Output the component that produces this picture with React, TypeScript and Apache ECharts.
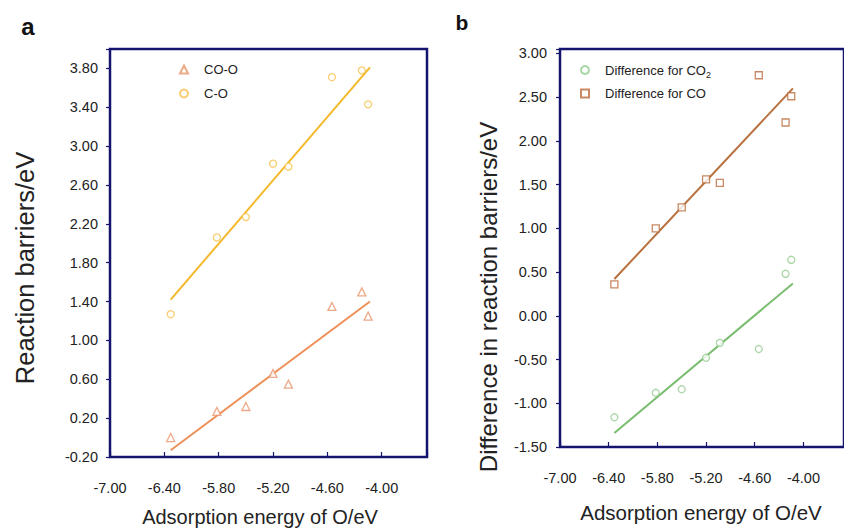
import React, { useEffect, useRef } from "react";
import * as echarts from "echarts";

// ---------- data ----------
const adsorptionO = [-6.33, -5.82, -5.5, -5.2, -5.03, -4.55, -4.22, -4.15];
const barrierCOO = [0.0, 0.27, 0.32, 0.66, 0.55, 1.35, 1.5, 1.25];
const barrierCO = [1.27, 2.06, 2.27, 2.82, 2.79, 3.71, 3.78, 3.43];
const diffCO2 = [-1.16, -0.88, -0.84, -0.48, -0.31, -0.38, 0.48, 0.64];
const diffCOv = [0.36, 1.0, 1.24, 1.56, 1.52, 2.75, 2.21, 2.51];

const fitX = [-6.33, -4.13];
const fitCOO = [-0.13, 1.4];
const fitCO = [1.42, 3.81];
const fitDiffCO2 = [-1.34, 0.37];
const fitDiffCO = [0.42, 2.6];

const xTicks = [-7.0, -6.4, -5.8, -5.2, -4.6, -4.0];
const yTicksA = [-0.2, 0.2, 0.6, 1.0, 1.4, 1.8, 2.2, 2.6, 3.0, 3.4, 3.8];
const yTicksB = [-1.5, -1.0, -0.5, 0.0, 0.5, 1.0, 1.5, 2.0, 2.5, 3.0];

const X_MAX = -3.5;
const Y_MAX_A = 4.0;
const Y_MAX_B = 3.05;

const FONT = "'Liberation Sans', Arial, 'Noto Sans', sans-serif";
const TXT = "#222222";
const FRAME = "#14146e";

const pairs = (xs: number[], ys: number[]) => xs.map((x, i) => [x, ys[i]]);

function xAxisCfg(gridIndex: number) {
  return {
    type: "value",
    gridIndex,
    min: xTicks[0],
    max: X_MAX,
    interval: xTicks[1] - xTicks[0],
    splitLine: { show: false },
    axisLine: { show: true, onZero: false, lineStyle: { color: FRAME, width: 2 } },
    axisTick: { show: true, inside: true, length: 5, lineStyle: { color: FRAME, width: 1.2 } },
    axisLabel: {
      customValues: xTicks,
      formatter: (v: number) => v.toFixed(2),
      margin: 23,
      fontSize: 14.5,
      color: TXT,
      fontFamily: FONT,
    },
  };
}

function yAxisCfg(gridIndex: number, max: number, ticks: number[], margin: number) {
  return {
    type: "value",
    gridIndex,
    min: ticks[0],
    max,
    interval: ticks[1] - ticks[0],
    splitLine: { show: false },
    axisLine: { show: true, onZero: false, lineStyle: { color: FRAME, width: 2 } },
    axisTick: { show: true, inside: false, length: 4, lineStyle: { color: FRAME, width: 1.2 } },
    axisLabel: {
      customValues: ticks,
      formatter: (v: number) => v.toFixed(2),
      margin,
      fontSize: 14.5,
      color: TXT,
      fontFamily: FONT,
    },
  };
}

function scatter(name: string, xi: number, ys: number[], symbol: string, size: number, color: string) {
  return {
    type: "scatter",
    name,
    xAxisIndex: xi,
    yAxisIndex: xi,
    symbol,
    symbolSize: size,
    itemStyle: { color: "#fff", borderColor: color, borderWidth: 1.3 },
    data: pairs(adsorptionO, ys),
    z: 3,
  };
}

function fit(name: string, xi: number, ys: number[], color: string) {
  return {
    type: "line",
    name,
    xAxisIndex: xi,
    yAxisIndex: xi,
    showSymbol: false,
    symbol: "none",
    lineStyle: { color, width: 2 },
    data: pairs(fitX, ys),
    z: 2,
  };
}

function legendCfg(name: string, left: number, top: number, extra: any = {}) {
  return {
    data: [name],
    left,
    top,
    orient: "vertical",
    itemWidth: 8,
    itemHeight: 8,
    padding: 0,
    selectedMode: false,
    textStyle: { fontSize: 13, color: TXT, fontFamily: FONT, padding: [0, 0, 0, 11], ...(extra.textStyle || {}) },
    ...(extra.formatter ? { formatter: extra.formatter } : {}),
  };
}

export default function App() {
  const ref = useRef<HTMLDivElement>(null);

  useEffect(() => {
    if (!ref.current) return;
    const chart = echarts.init(ref.current, undefined, { renderer: "svg" });
    const option: any = {
      animation: false,
      grid: [
        { left: 110, top: 49, right: 417, bottom: 72, show: true, borderColor: FRAME, borderWidth: 2.5, backgroundColor: "rgba(0,0,0,0)" },
        { left: 560, top: 49, right: -10, bottom: 82, show: true, borderColor: FRAME, borderWidth: 2.5, backgroundColor: "rgba(0,0,0,0)" },
      ],
      xAxis: [xAxisCfg(0), xAxisCfg(1)],
      yAxis: [yAxisCfg(0, Y_MAX_A, yTicksA, 12), yAxisCfg(1, Y_MAX_B, yTicksB, 13)],
      legend: [
        legendCfg("CO-O", 179, 63),
        legendCfg("C-O", 179, 87),
        legendCfg("Difference for CO2", 580, 61, {
          formatter: () => "Difference for CO{sub|2}",
          textStyle: {
            lineHeight: 18,
            rich: { sub: { fontSize: 9, lineHeight: 18, verticalAlign: "bottom", color: TXT, fontFamily: FONT } },
          },
        }),
        legendCfg("Difference for CO", 580, 87),
      ],
      series: [
        fit("fitCOO", 0, fitCOO, "#EE9159"),
        fit("fitCO", 0, fitCO, "#F4B92B"),
        scatter("CO-O", 0, barrierCOO, "triangle", 8, "#E8956B"),
        scatter("C-O", 0, barrierCO, "circle", 7, "#F5C24E"),
        fit("fitDiffCO2", 1, fitDiffCO2, "#79BD6E"),
        fit("fitDiffCO", 1, fitDiffCO, "#B8713F"),
        scatter("Difference for CO2", 1, diffCO2, "circle", 7, "#93CC90"),
        scatter("Difference for CO", 1, diffCOv, "rect", 7, "#BA6C3C"),
      ],
      graphic: [
        { type: "text", x: 28, y: 26, style: { text: "a", fontSize: 24, fontWeight: "bold", fill: "#111", fontFamily: FONT, align: "center", verticalAlign: "middle" } },
        { type: "text", x: 462, y: 22, style: { text: "b", fontSize: 21, fontWeight: "bold", fill: "#111", fontFamily: FONT, align: "center", verticalAlign: "middle" } },
        { type: "text", x: 25, y: 268, rotation: Math.PI / 2, style: { text: "Reaction barriers/eV", fontSize: 25.5, fill: TXT, fontFamily: FONT, align: "center", verticalAlign: "middle" } },
        { type: "text", x: 488, y: 297, rotation: Math.PI / 2, style: { text: "Difference in reaction barriers/eV", fontSize: 24, fill: TXT, fontFamily: FONT, align: "center", verticalAlign: "middle" } },
        { type: "text", x: 260, y: 517, style: { text: "Adsorption energy of O/eV", fontSize: 20, fill: TXT, fontFamily: FONT, align: "center", verticalAlign: "middle" } },
        { type: "text", x: 701, y: 512, style: { text: "Adsorption energy of O/eV", fontSize: 20.5, fill: TXT, fontFamily: FONT, align: "center", verticalAlign: "middle" } },
      ],
    };
    chart.setOption(option);
    return () => chart.dispose();
  }, []);

  return <div ref={ref} style={{ width: 844, height: 529, position: "absolute", left: 0, top: 0, background: "#fff" }} />;
}
